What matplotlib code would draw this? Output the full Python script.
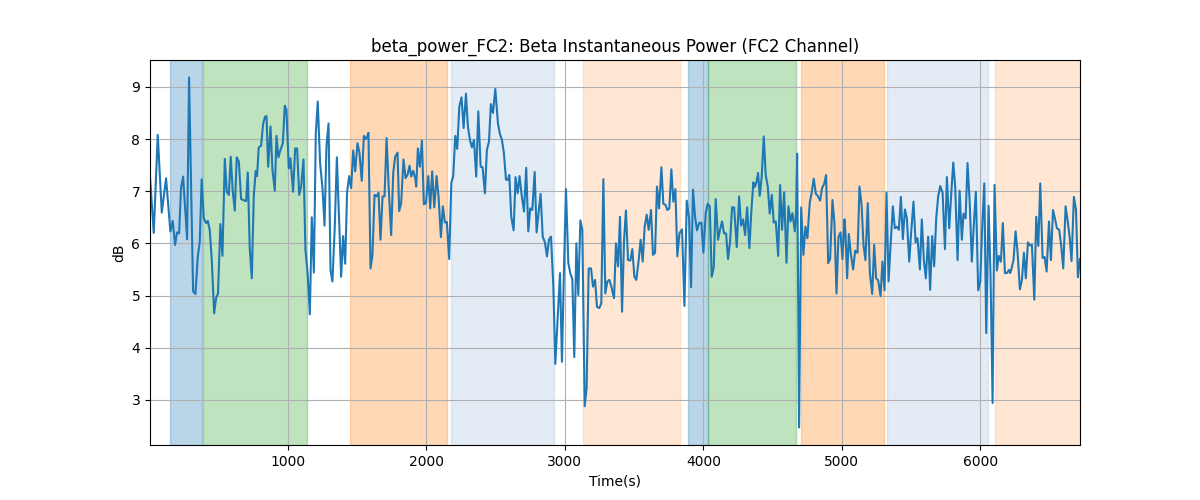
import matplotlib
matplotlib.use("Agg")
import matplotlib.pyplot as plt

time_s = [5, 32, 61, 90, 121, 152, 169, 186, 200, 215, 229, 244, 273, 287, 316, 333, 350, 364, 378, 393,
          410, 422, 436, 451, 468, 482, 496, 513, 528, 545, 559, 574, 588, 602, 617, 631, 646, 663, 687, 699,
          711, 725, 740, 754, 768, 778, 790, 807, 822, 836, 846, 858, 875, 889, 906, 918, 932, 947, 964, 978,
          990, 1007, 1019, 1038, 1053, 1067, 1082, 1096, 1113, 1127, 1142, 1159, 1173, 1188, 1202, 1216, 1233, 1250, 1265, 1279,
          1294, 1308, 1322, 1339, 1354, 1371, 1385, 1399, 1414, 1428, 1443, 1457, 1472, 1486, 1503, 1517, 1534, 1549, 1563, 1573,
          1582, 1597, 1611, 1626, 1640, 1655, 1669, 1684, 1698, 1713, 1729, 1746, 1761, 1775, 1792, 1804, 1818, 1835, 1850, 1864,
          1879, 1891, 1905, 1920, 1927, 1939, 1953, 1968, 1982, 1997, 2014, 2028, 2042, 2057, 2074, 2088, 2105, 2119, 2134, 2148,
          2165, 2180, 2194, 2209, 2223, 2238, 2254, 2269, 2286, 2300, 2315, 2329, 2344, 2360, 2375, 2392, 2406, 2423, 2437, 2452,
          2466, 2481, 2498, 2517, 2531, 2546, 2560, 2575, 2589, 2599, 2613, 2630, 2644, 2659, 2673, 2688, 2705, 2721, 2736, 2750,
          2765, 2782, 2796, 2811, 2825, 2840, 2856, 2871, 2885, 2900, 2917, 2931, 2948, 2965, 2979, 2994, 3008, 3025, 3039, 3054,
          3068, 3083, 3097, 3112, 3126, 3143, 3157, 3172, 3189, 3203, 3218, 3232, 3249, 3263, 3278, 3292, 3307, 3321, 3336, 3355,
          3369, 3384, 3398, 3413, 3427, 3441, 3456, 3473, 3487, 3502, 3516, 3533, 3547, 3562, 3576, 3591, 3605, 3622, 3636, 3651,
          3665, 3680, 3697, 3711, 3726, 3740, 3754, 3769, 3783, 3798, 3812, 3827, 3846, 3863, 3880, 3897, 3911, 3925, 3940, 3954,
          3969, 3986, 4000, 4017, 4031, 4046, 4060, 4075, 4089, 4106, 4120, 4135, 4149, 4164, 4178, 4193, 4207, 4222, 4241, 4258,
          4272, 4287, 4301, 4316, 4332, 4347, 4361, 4371, 4383, 4395, 4407, 4421, 4436, 4450, 4465, 4479, 4494, 4508, 4523, 4540,
          4554, 4568, 4583, 4600, 4614, 4629, 4643, 4660, 4669, 4677, 4691, 4706, 4722, 4737, 4751, 4768, 4783, 4797, 4812, 4826,
          4843, 4857, 4872, 4886, 4901, 4915, 4932, 4946, 4961, 4975, 4990, 5004, 5019, 5026, 5038, 5050, 5064, 5081, 5096, 5113,
          5127, 5142, 5156, 5170, 5187, 5202, 5219, 5233, 5247, 5262, 5279, 5293, 5308, 5322, 5337, 5353, 5368, 5382, 5397, 5411,
          5426, 5440, 5455, 5469, 5486, 5500, 5517, 5532, 5546, 5563, 5577, 5592, 5606, 5623, 5637, 5652, 5666, 5681, 5695, 5710,
          5727, 5744, 5758, 5775, 5789, 5804, 5818, 5835, 5850, 5866, 5878, 5893, 5907, 5922, 5938, 5955, 5967, 5984, 5999, 6013,
          6028, 6042, 6059, 6073, 6088, 6102, 6119, 6133, 6148, 6162, 6177, 6191, 6206, 6215, 6225, 6239, 6254, 6268, 6285, 6300,
          6314, 6328, 6343, 6357, 6372, 6389, 6403, 6418, 6432, 6449, 6463, 6478, 6495, 6509, 6524, 6538, 6552, 6569, 6584, 6598,
          6615, 6629, 6644, 6658, 6675, 6690, 6704, 6719]

power_db = [7.28, 6.20, 8.08, 6.59, 7.25, 6.23, 6.43, 5.97, 6.21, 6.19, 7.06, 7.28, 6.08, 9.18, 5.08, 5.03, 5.75, 6.02, 7.23, 6.48,
            6.39, 6.43, 6.26, 5.68, 4.66, 4.95, 5.04, 6.37, 5.76, 7.62, 6.99, 6.93, 7.66, 7.01, 6.63, 7.65, 7.57, 6.85, 6.82, 6.81,
            7.36, 5.91, 5.33, 6.90, 7.39, 7.29, 7.84, 7.87, 8.30, 8.43, 8.44, 7.47, 8.24, 7.41, 7.01, 8.06, 7.65, 7.79, 7.92, 8.64,
            8.56, 7.44, 7.63, 6.99, 7.82, 7.82, 6.93, 7.09, 7.61, 5.88, 5.46, 4.64, 6.50, 5.44, 8.11, 8.72, 7.54, 7.06, 6.34, 7.87,
            8.30, 5.49, 5.27, 6.32, 7.65, 6.39, 5.36, 6.14, 5.61, 6.99, 7.29, 7.06, 7.78, 7.38, 7.92, 7.74, 7.20, 8.06, 8.00, 8.05,
            8.12, 5.52, 5.78, 6.93, 6.90, 6.97, 6.07, 6.90, 6.90, 8.02, 7.03, 6.16, 7.35, 7.66, 7.74, 6.62, 6.76, 7.61, 7.25, 7.31,
            7.49, 7.28, 7.39, 7.25, 7.09, 7.82, 7.47, 7.97, 6.75, 6.77, 7.29, 6.67, 7.38, 6.69, 7.29, 6.90, 6.12, 6.71, 6.40, 6.41,
            5.70, 7.15, 7.29, 8.06, 7.81, 8.62, 8.80, 8.21, 8.87, 8.24, 7.98, 7.84, 7.98, 7.28, 8.53, 7.47, 7.46, 6.96, 7.79, 7.95,
            8.67, 8.50, 8.96, 8.30, 8.10, 7.98, 7.73, 7.22, 7.22, 7.31, 6.51, 6.25, 7.27, 6.96, 7.29, 6.93, 6.61, 7.45, 6.23, 6.67,
            6.64, 7.37, 6.21, 6.61, 6.95, 6.13, 6.02, 5.75, 6.07, 6.13, 5.17, 3.69, 4.57, 5.43, 3.73, 5.56, 7.04, 5.62, 5.43, 5.31,
            3.82, 6.00, 5.01, 6.44, 6.26, 2.88, 3.22, 5.52, 5.52, 5.17, 5.30, 4.78, 4.76, 4.85, 7.23, 5.04, 5.27, 5.30, 5.17, 4.95,
            6.00, 5.56, 6.51, 4.69, 6.04, 6.63, 5.68, 5.67, 5.89, 5.36, 5.30, 5.68, 6.07, 5.65, 6.32, 6.55, 6.26, 6.64, 5.78, 5.82,
            7.09, 6.67, 7.46, 6.76, 6.74, 6.64, 6.67, 7.42, 6.80, 7.04, 5.75, 6.19, 6.27, 4.80, 6.82, 6.48, 5.16, 7.03, 6.51, 6.25,
            6.39, 6.40, 5.82, 6.58, 6.76, 6.71, 5.36, 5.54, 6.85, 6.07, 6.26, 6.42, 6.19, 6.19, 5.70, 6.04, 6.69, 6.69, 5.93, 6.90,
            6.34, 6.46, 6.16, 6.69, 5.91, 6.65, 7.17, 7.08, 7.17, 7.35, 6.91, 7.27, 8.05, 7.31, 7.09, 6.57, 6.93, 6.40, 6.42, 5.76,
            7.12, 6.26, 6.98, 5.63, 6.71, 6.42, 6.58, 6.23, 6.58, 7.72, 2.47, 6.69, 5.78, 6.32, 6.10, 6.78, 6.99, 7.24, 6.95, 6.91,
            6.82, 7.06, 7.14, 7.31, 5.62, 5.70, 6.83, 6.39, 5.04, 6.12, 6.21, 5.70, 6.46, 6.19, 5.33, 6.18, 5.81, 5.50, 5.86, 5.82,
            7.09, 6.74, 5.97, 5.68, 6.77, 5.43, 5.03, 5.97, 5.33, 5.29, 4.99, 5.65, 5.10, 6.97, 5.27, 6.04, 6.71, 6.29, 6.32, 6.26,
            6.89, 6.08, 6.65, 6.48, 5.65, 6.21, 6.80, 6.02, 6.10, 5.50, 6.46, 5.67, 5.33, 6.13, 5.11, 6.14, 5.56, 6.48, 6.90, 7.10,
            6.97, 5.89, 7.27, 6.29, 6.93, 7.55, 7.09, 5.68, 7.01, 6.07, 6.57, 6.48, 7.54, 6.83, 5.65, 6.48, 6.99, 5.10, 5.27, 6.32,
            7.15, 4.28, 6.72, 5.40, 2.94, 7.12, 5.48, 5.76, 5.65, 6.39, 5.43, 5.43, 5.49, 5.43, 5.52, 5.68, 6.23, 5.84, 5.12, 5.30,
            5.82, 5.33, 6.02, 5.96, 5.97, 4.92, 6.51, 5.95, 7.15, 5.72, 5.74, 5.46, 6.42, 5.68, 6.64, 6.48, 6.29, 6.26, 5.94, 5.52,
            6.71, 6.45, 6.13, 5.66, 6.89, 6.65, 5.35, 5.70]

span_starts = [147, 388, 1448, 2177, 3131, 3891, 4034, 4706, 5328, 6108]
span_ends = [384, 1139, 2146, 2921, 3831, 4032, 4667, 5307, 6054, 6760]
span_kinds = ["blue", "green", "orange", "lightblue", "peach", "blue", "green", "orange", "lightblue", "peach"]

span_style = {
    "blue": ("tab:blue", 0.3),
    "green": ("tab:green", 0.3),
    "orange": ("tab:orange", 0.3),
    "lightblue": ("#93b3db", 0.25),
    "peach": ("tab:orange", 0.18),
}

fig, ax = plt.subplots(figsize=(12, 5), dpi=100)
for s, e, k in zip(span_starts, span_ends, span_kinds):
    c, a = span_style[k]
    ax.axvspan(s, e, color=c, alpha=a)
ax.plot(time_s, power_db, color="tab:blue", linewidth=1.5)
ax.set_xlim(min(time_s), max(time_s))
ax.set_title("beta_power_FC2: Beta Instantaneous Power (FC2 Channel)")
ax.set_xlabel("Time(s)")
ax.set_ylabel("dB")
ax.grid(True)
fig.savefig("out.png")
